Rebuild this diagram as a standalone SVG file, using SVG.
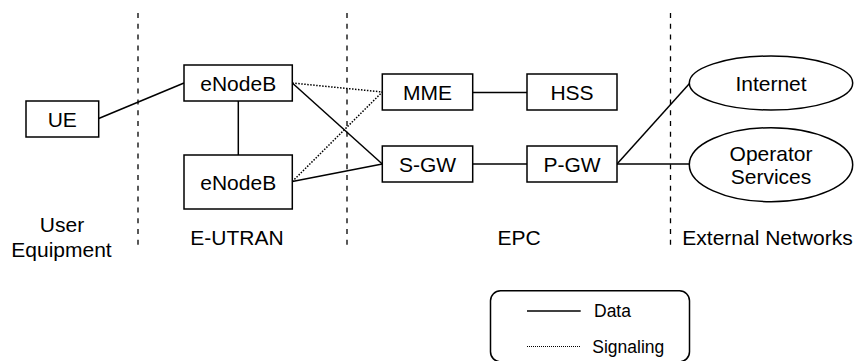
<svg xmlns="http://www.w3.org/2000/svg" width="858" height="361" viewBox="0 0 858 361">
<style>
.box{fill:#fff;stroke:#000;stroke-width:1.5}
.t{font-family:"Liberation Sans",Arial,sans-serif;font-size:21px;fill:#000;text-anchor:middle}
.lg{font-family:"Liberation Sans",Arial,sans-serif;font-size:17.5px;fill:#000}
.data{stroke:#000;stroke-width:1.5;fill:none}
.sig{stroke:#000;stroke-width:1.5;stroke-dasharray:1.5 1.5;fill:none}
.sep{stroke:#000;stroke-width:1.3;stroke-dasharray:5 5.8;fill:none}
</style>
<rect width="858" height="361" fill="#fff"/>
<g id="separators">
<line class="sep" x1="138" y1="13" x2="138" y2="246"/>
<line class="sep" x1="347" y1="13" x2="347" y2="246"/>
<line class="sep" x1="670.5" y1="13" x2="670.5" y2="246"/>
</g>
<g id="connectors">
<line class="data" x1="98.7" y1="118.5" x2="184" y2="83"/>
<line class="data" x1="238.3" y1="101" x2="238.3" y2="155"/>
<line class="data" x1="292.3" y1="83" x2="382.3" y2="164"/>
<line class="data" x1="292.3" y1="181.5" x2="382.3" y2="164"/>
<line class="sig" x1="292.3" y1="83" x2="382.3" y2="92"/>
<line class="sig" x1="292.3" y1="181.5" x2="382.3" y2="92"/>
<line class="data" x1="472.7" y1="92.5" x2="527" y2="92.5"/>
<line class="data" x1="472.7" y1="164" x2="527" y2="164"/>
<line class="data" x1="617" y1="164" x2="689.5" y2="83.5"/>
<line class="data" x1="617" y1="164" x2="689.5" y2="164"/>
</g>
<g id="UE"><rect class="box" x="26" y="101" width="72.7" height="36"/><text class="t" x="62.3" y="127">UE</text></g>
<g id="eNodeB1"><rect class="box" x="184" y="65" width="108.3" height="36"/><text class="t" x="238.2" y="91">eNodeB</text></g>
<g id="eNodeB2"><rect class="box" x="184" y="155" width="108.3" height="54"/><text class="t" x="238.2" y="189.5">eNodeB</text></g>
<g id="MME"><rect class="box" x="382.3" y="74" width="90.4" height="36"/><text class="t" x="427.5" y="99.5">MME</text></g>
<g id="HSS"><rect class="box" x="527" y="74" width="90" height="36"/><text class="t" x="572" y="99.5">HSS</text></g>
<g id="SGW"><rect class="box" x="382.3" y="146" width="90.4" height="36"/><text class="t" x="427.5" y="171.5">S-GW</text></g>
<g id="PGW"><rect class="box" x="527" y="146" width="90" height="36"/><text class="t" x="572" y="171.5">P-GW</text></g>
<g id="Internet"><ellipse class="box" cx="771" cy="83" rx="81.7" ry="27"/><text class="t" x="771" y="90.5">Internet</text></g>
<g id="OperatorServices"><ellipse class="box" cx="771" cy="164.7" rx="81.7" ry="37"/><text class="t" x="771" y="160.5">Operator</text><text class="t" x="771" y="183.5">Services</text></g>
<g id="labels">
<text class="t" x="62" y="232">User</text>
<text class="t" x="61.5" y="256.5">Equipment</text>
<text class="t" x="237" y="245">E-UTRAN</text>
<text class="t" x="519" y="245">EPC</text>
<text class="t" x="682.3" y="245" style="text-anchor:start">External Networks</text>
</g>
<g id="legend">
<rect class="box" x="490.5" y="290.8" width="199" height="71" rx="10"/>
<line class="data" x1="527" y1="311" x2="580.7" y2="311"/>
<text class="lg" x="594" y="317">Data</text>
<line class="sig" x1="527" y1="346.5" x2="580.7" y2="346.5" style="stroke-width:1;stroke-dasharray:1 1"/>
<text class="lg" x="592.3" y="352.5">Signaling</text>
</g>
</svg>
